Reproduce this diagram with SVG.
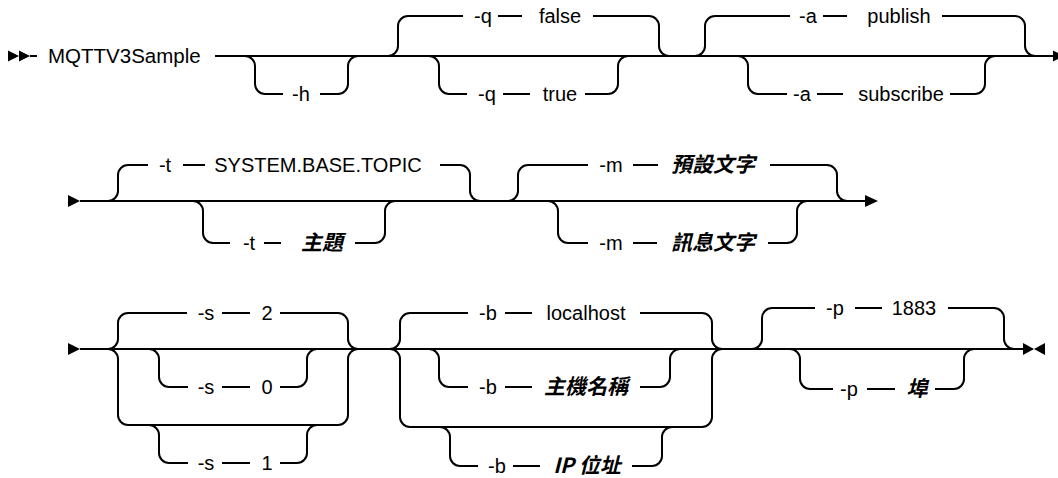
<svg xmlns="http://www.w3.org/2000/svg" width="1058" height="478" viewBox="0 0 1058 478">
<style>
.ln{fill:none;stroke:#000;stroke-width:2}
.mk{fill:#000;stroke:none}
.t{font-family:"Liberation Sans",Arial,sans-serif;font-size:20px;fill:#000;text-anchor:middle}
.cmd{font-family:"Liberation Sans",Arial,sans-serif;font-size:20.5px;fill:#000}
.v{font-family:"Noto Sans CJK TC","Noto Sans CJK SC",sans-serif;font-size:21px;font-style:italic;font-weight:700;fill:#000;text-anchor:middle}
</style>
<rect width="1058" height="478" fill="#fff"/>
<g id="connectors">
  <!-- row 1 -->
  <polygon class="mk" points="8,50.5 19,56 8,61.5"/>
  <polygon class="mk" points="19,50.5 30,56 19,61.5"/>
  <path class="ln" d="M30 56 H37"/>
  <path class="ln" d="M215 56 H1054"/>
  <polygon class="mk" points="1053,50.5 1064,56 1053,61.5"/>
  <path class="ln" d="M245 56 A10 10 0 0 1 255 66 V84 A10 10 0 0 0 265 94 H283 M320 94 H338 A10 10 0 0 0 348 84 V66 A10 10 0 0 1 358 56"/>
  <path class="ln" d="M388 56 A10 10 0 0 0 398 46 V26 A10 10 0 0 1 408 16 H463 M498 16 H522 M593 16 H649 A10 10 0 0 1 659 26 V46 A10 10 0 0 0 669 56"/>
  <path class="ln" d="M429 56 A10 10 0 0 1 439 66 V84 A10 10 0 0 0 449 94 H467 M503 94 H530 M585 94 H608 A10 10 0 0 0 618 84 V66 A10 10 0 0 1 628 56"/>
  <path class="ln" d="M695 56 A10 10 0 0 0 705 46 V26 A10 10 0 0 1 715 16 H790 M823 16 H847 M942 16 H1015 A10 10 0 0 1 1025 26 V46 A10 10 0 0 0 1035 56"/>
  <path class="ln" d="M738 56 A10 10 0 0 1 748 66 V84 A10 10 0 0 0 758 94 H787 M817 94 H843 M950 94 H975 A10 10 0 0 0 985 84 V66 A10 10 0 0 1 995 56"/>
  <!-- row 2 -->
  <polygon class="mk" points="68,195 80,201 68,207"/>
  <path class="ln" d="M80 201 H866"/>
  <polygon class="mk" points="865,195 878,201 865,207"/>
  <path class="ln" d="M108 201 A10 10 0 0 0 118 191 V175 A10 10 0 0 1 128 165 H148 M183 165 H205 M440 165 H460 A10 10 0 0 1 470 175 V191 A10 10 0 0 0 480 201"/>
  <path class="ln" d="M193 201 A10 10 0 0 1 203 211 V233 A10 10 0 0 0 213 243 H230 M264 243 H281 M355 243 H375 A10 10 0 0 0 385 233 V211 A10 10 0 0 1 395 201"/>
  <path class="ln" d="M508 201 A10 10 0 0 0 518 191 V175 A10 10 0 0 1 528 165 H588 M633 165 H658 M770 165 H827 A10 10 0 0 1 837 175 V191 A10 10 0 0 0 847 201"/>
  <path class="ln" d="M548 201 A10 10 0 0 1 558 211 V233 A10 10 0 0 0 568 243 H588 M633 243 H657 M768 243 H787 A10 10 0 0 0 797 233 V211 A10 10 0 0 1 807 201"/>
  <!-- row 3 -->
  <polygon class="mk" points="68,343 80,349 68,355"/>
  <path class="ln" d="M80 349 H1023"/>
  <polygon class="mk" points="1023,343 1034,349 1023,355"/>
  <polygon class="mk" points="1045,343 1034,349 1045,355"/>
  <path class="ln" d="M108 349 A10 10 0 0 0 118 339 V323 A10 10 0 0 1 128 313 H187 M222 313 H250 M280 313 H338 A10 10 0 0 1 348 323 V339 A10 10 0 0 0 358 349"/>
  <path class="ln" d="M108 349 A10 10 0 0 1 118 359 V415 A10 10 0 0 0 128 425 H338 A10 10 0 0 0 348 415 V359 A10 10 0 0 1 358 349"/>
  <path class="ln" d="M149 349 A10 10 0 0 1 159 359 V377 A10 10 0 0 0 169 387 H188 M222 387 H250 M280 387 H297 A10 10 0 0 0 307 377 V359 A10 10 0 0 1 317 349"/>
  <path class="ln" d="M149 425 A10 10 0 0 1 159 435 V453 A10 10 0 0 0 169 463 H188 M222 463 H250 M280 463 H297 A10 10 0 0 0 307 453 V435 A10 10 0 0 1 317 425"/>
  <path class="ln" d="M390 349 A10 10 0 0 0 400 339 V323 A10 10 0 0 1 410 313 H468 M505 313 H532 M640 313 H702 A10 10 0 0 1 712 323 V339 A10 10 0 0 0 722 349"/>
  <path class="ln" d="M390 349 A10 10 0 0 1 400 359 V417 A10 10 0 0 0 410 427 H702 A10 10 0 0 0 712 417 V359 A10 10 0 0 1 722 349"/>
  <path class="ln" d="M429 349 A10 10 0 0 1 439 359 V377 A10 10 0 0 0 449 387 H468 M505 387 H532 M640 387 H660 A10 10 0 0 0 670 377 V359 A10 10 0 0 1 680 349"/>
  <path class="ln" d="M440 427 A10 10 0 0 1 450 437 V456 A10 10 0 0 0 460 466 H478 M513 466 H540 M632 466 H652 A10 10 0 0 0 662 456 V437 A10 10 0 0 1 672 427"/>
  <path class="ln" d="M752 349 A10 10 0 0 0 762 339 V318 A10 10 0 0 1 772 308 H815 M855 308 H882 M948 308 H994 A10 10 0 0 1 1004 318 V339 A10 10 0 0 0 1014 349"/>
  <path class="ln" d="M790 349 A10 10 0 0 1 800 359 V379 A10 10 0 0 0 810 389 H833 M867 389 H895 M935 389 H954 A10 10 0 0 0 964 379 V359 A10 10 0 0 1 974 349"/>
</g>
<g id="cmd"><text class="cmd" x="48" y="63">MQTTV3Sample</text></g>
<g id="opt-h"><text class="t" x="301" y="101">-h</text></g>
<g id="opt-q-false"><text class="t" x="483" y="23">-q</text><text class="t" x="560" y="23">false</text></g>
<g id="opt-q-true"><text class="t" x="487" y="101">-q</text><text class="t" x="560" y="101">true</text></g>
<g id="opt-a-publish"><text class="t" x="808" y="23">-a</text><text class="t" x="899" y="23">publish</text></g>
<g id="opt-a-subscribe"><text class="t" x="802" y="101">-a</text><text class="t" x="901" y="101">subscribe</text></g>
<g id="opt-t-default"><text class="t" x="165" y="172">-t</text><text class="t" x="318" y="172">SYSTEM.BASE.TOPIC</text></g>
<g id="opt-t-topic"><text class="t" x="249" y="250">-t</text><text class="v" x="322" y="250">主題</text></g>
<g id="opt-m-default"><text class="t" x="611" y="172">-m</text><text class="v" x="713" y="172">預設文字</text></g>
<g id="opt-m-text"><text class="t" x="611" y="250">-m</text><text class="v" x="713" y="250">訊息文字</text></g>
<g id="opt-s-2"><text class="t" x="206" y="320">-s</text><text class="t" x="267" y="320">2</text></g>
<g id="opt-s-0"><text class="t" x="206" y="394">-s</text><text class="t" x="267" y="394">0</text></g>
<g id="opt-s-1"><text class="t" x="206" y="470">-s</text><text class="t" x="267" y="470">1</text></g>
<g id="opt-b-localhost"><text class="t" x="488" y="320">-b</text><text class="t" x="586" y="320">localhost</text></g>
<g id="opt-b-host"><text class="t" x="488" y="394">-b</text><text class="v" x="586" y="394">主機名稱</text></g>
<g id="opt-b-ip"><text class="t" x="497" y="473">-b</text><text class="v" x="587" y="473">IP 位址</text></g>
<g id="opt-p-1883"><text class="t" x="835" y="315">-p</text><text class="t" x="914" y="315">1883</text></g>
<g id="opt-p-port"><text class="t" x="849" y="396">-p</text><text class="v" x="917" y="396">埠</text></g>
</svg>
